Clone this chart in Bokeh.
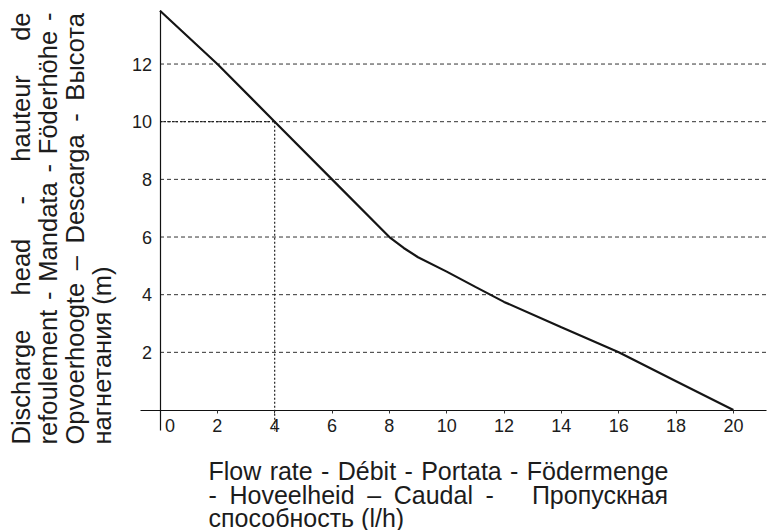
from math import pi
from bokeh.plotting import figure
from bokeh.models import Label, FixedTicker, Range1d
from bokeh.embed import file_html
from bokeh.resources import INLINE

# ---------------- data ----------------
flow = [0, 2, 4, 6, 8, 8.5, 9, 10, 11, 12, 14, 16, 18, 20]
head = [13.85, 12, 10, 8, 6.0, 5.62, 5.3, 4.8, 4.27, 3.75, 2.87, 2.0, 1.0, 0]
x_ticks = [0, 2, 4, 6, 8, 10, 12, 14, 16, 18, 20]
y_ticks = [2, 4, 6, 8, 10, 12]
duty_flow = 4
duty_head = 10

x_title_lines = [
    (["Flow", "rate", "-", "Débit", "-", "Portata", "-", "Födermenge"], [1, 1, 1, 1, 1, 1, 1]),
    (["-", "Hoveelheid", "–", "Caudal", "-", "Пропускная"], [1, 1, 1, 1, 3]),
    (["способность (l/h)"], []),
]
y_title_lines = [
    (["Discharge", "head", "-", "hauteur", "de"], [1, 1, 1, 1]),
    (["refoulement", "-", "Mandata", "-", "Föderhöhe", "-"], [1, 1, 1, 1, 1]),
    (["Opvoerhoogte", "–", "Descarga", "-", "Высота"], [1, 1, 1, 1]),
    (["нагнетания (m)"], []),
]

# ---------------- layout ----------------
FONT = "Liberation Sans"
INK = "#1c1c1c"
WIDTH, HEIGHT = 767, 530
PX0, SX = 159.5, 28.67      # pixel of flow 0, pixels per unit
PY0, SY = 409.5, 28.83      # pixel of head 0, pixels per unit


def to_x(px):
    return (px - PX0) / SX


def to_y(py):
    return (PY0 - py) / SY


X0, X1 = to_x(0), to_x(WIDTH)
Y0, Y1 = to_y(HEIGHT), to_y(0)
AX_X = (to_x(140), to_x(766))   # extent of the flow axis line
AX_Y = (to_y(430), to_y(10))    # extent of the head axis line

p = figure(width=WIDTH, height=HEIGHT, x_range=Range1d(X0, X1), y_range=Range1d(Y0, Y1),
           output_backend="svg", toolbar_location=None,
           min_border_left=0, min_border_right=0, min_border_top=0, min_border_bottom=0)
p.outline_line_color = None
p.background_fill_color = "white"
p.border_fill_color = "white"
p.xgrid.visible = False
p.ygrid.visible = False

for ax in (p.xaxis[0], p.yaxis[0]):
    ax.fixed_location = 0
    ax.axis_line_color = "#111111"
    ax.axis_line_width = 1.2
    ax.minor_tick_line_color = None
    ax.major_label_text_font = FONT
    ax.major_label_text_font_size = "18px"
    ax.major_label_text_color = INK

p.xaxis.bounds = AX_X
p.yaxis.bounds = AX_Y

p.xaxis.ticker = FixedTicker(ticks=x_ticks)
p.xaxis.major_tick_in = 0
p.xaxis.major_tick_out = 3
p.xaxis.major_tick_line_color = "#333333"
p.xaxis.major_label_standoff = 3
p.xaxis.major_label_overrides = {0: "\u00a0\u00a0\u00a0\u00a00"}

p.yaxis.ticker = FixedTicker(ticks=y_ticks)
p.yaxis.major_tick_line_color = None
p.yaxis.major_label_standoff = 2

# dashed horizontal grid lines starting at the y axis
p.segment(x0=[0] * len(y_ticks), y0=y_ticks, x1=[AX_X[1]] * len(y_ticks), y1=y_ticks,
          line_color="#333333", line_width=1, line_dash="4 3")

# duty point guide lines
p.segment(x0=[0, duty_flow], y0=[duty_head, duty_head], x1=[duty_flow, duty_flow], y1=[duty_head, AX_Y[0]],
          line_color="#222222", line_width=1.2, line_dash="2 2")

# pump curve
p.line(flow, head, line_color="#151515", line_width=2.2)

# ---------------- justified titles ----------------
W = {" ": 278, "-": 333, "–": 556, "(": 333, ")": 333, "/": 278,
     "a": 556, "b": 556, "c": 500, "d": 556, "e": 556, "f": 278, "g": 556, "h": 556,
     "i": 222, "l": 222, "m": 833, "n": 556, "o": 556, "p": 556, "r": 333, "s": 500,
     "t": 278, "u": 556, "v": 500, "w": 722, "é": 556, "ö": 556,
     "C": 722, "D": 722, "F": 611, "H": 722, "M": 833, "O": 778, "P": 667,
     "а": 556, "б": 573, "г": 365, "е": 556, "и": 559, "к": 438, "н": 552, "о": 556,
     "п": 542, "р": 556, "с": 500, "т": 458, "у": 500, "ы": 719, "ь": 521, "я": 542,
     "В": 667, "П": 722}


def text_px(s, size):
    return sum(W.get(c, 556) for c in s) * size / 1000.0


def justify(words, gaps, length, size):
    widths = [text_px(w, size) for w in words]
    unit = (length - sum(widths)) / sum(gaps) if gaps else 0
    offs, cur = [], 0.0
    for i, w in enumerate(widths):
        offs.append(cur)
        if i < len(gaps):
            cur += w + gaps[i] * unit
    return offs


# x title (horizontal)
XS = 25
x_start, x_len = 208, 460
x_baselines = [470, 494, 517]
for (words, gaps), base in zip(x_title_lines, x_baselines):
    offs = justify(words, gaps, x_len, XS)
    for w, o in zip(words, offs):
        p.add_layout(Label(x=to_x(x_start + o), y=to_y(base), text=w,
                           text_font=FONT, text_font_size=f"{XS}px", text_color=INK,
                           text_align="left", text_baseline="alphabetic"))

# y title (rotated, reading upward)
YS = 25.5
y_start, y_len = 444, 432
y_baselines = [20, 47, 74, 101]
for (words, gaps), base in zip(y_title_lines, y_baselines):
    offs = justify(words, gaps, y_len, YS)
    for w, o in zip(words, offs):
        p.add_layout(Label(x=to_x(base), y=to_y(y_start - o), text=w, angle=pi / 2,
                           text_font=FONT, text_font_size=f"{YS}px", text_color=INK,
                           text_align="left", text_baseline="alphabetic"))

open("out.html", "w").write(file_html(p, INLINE))
